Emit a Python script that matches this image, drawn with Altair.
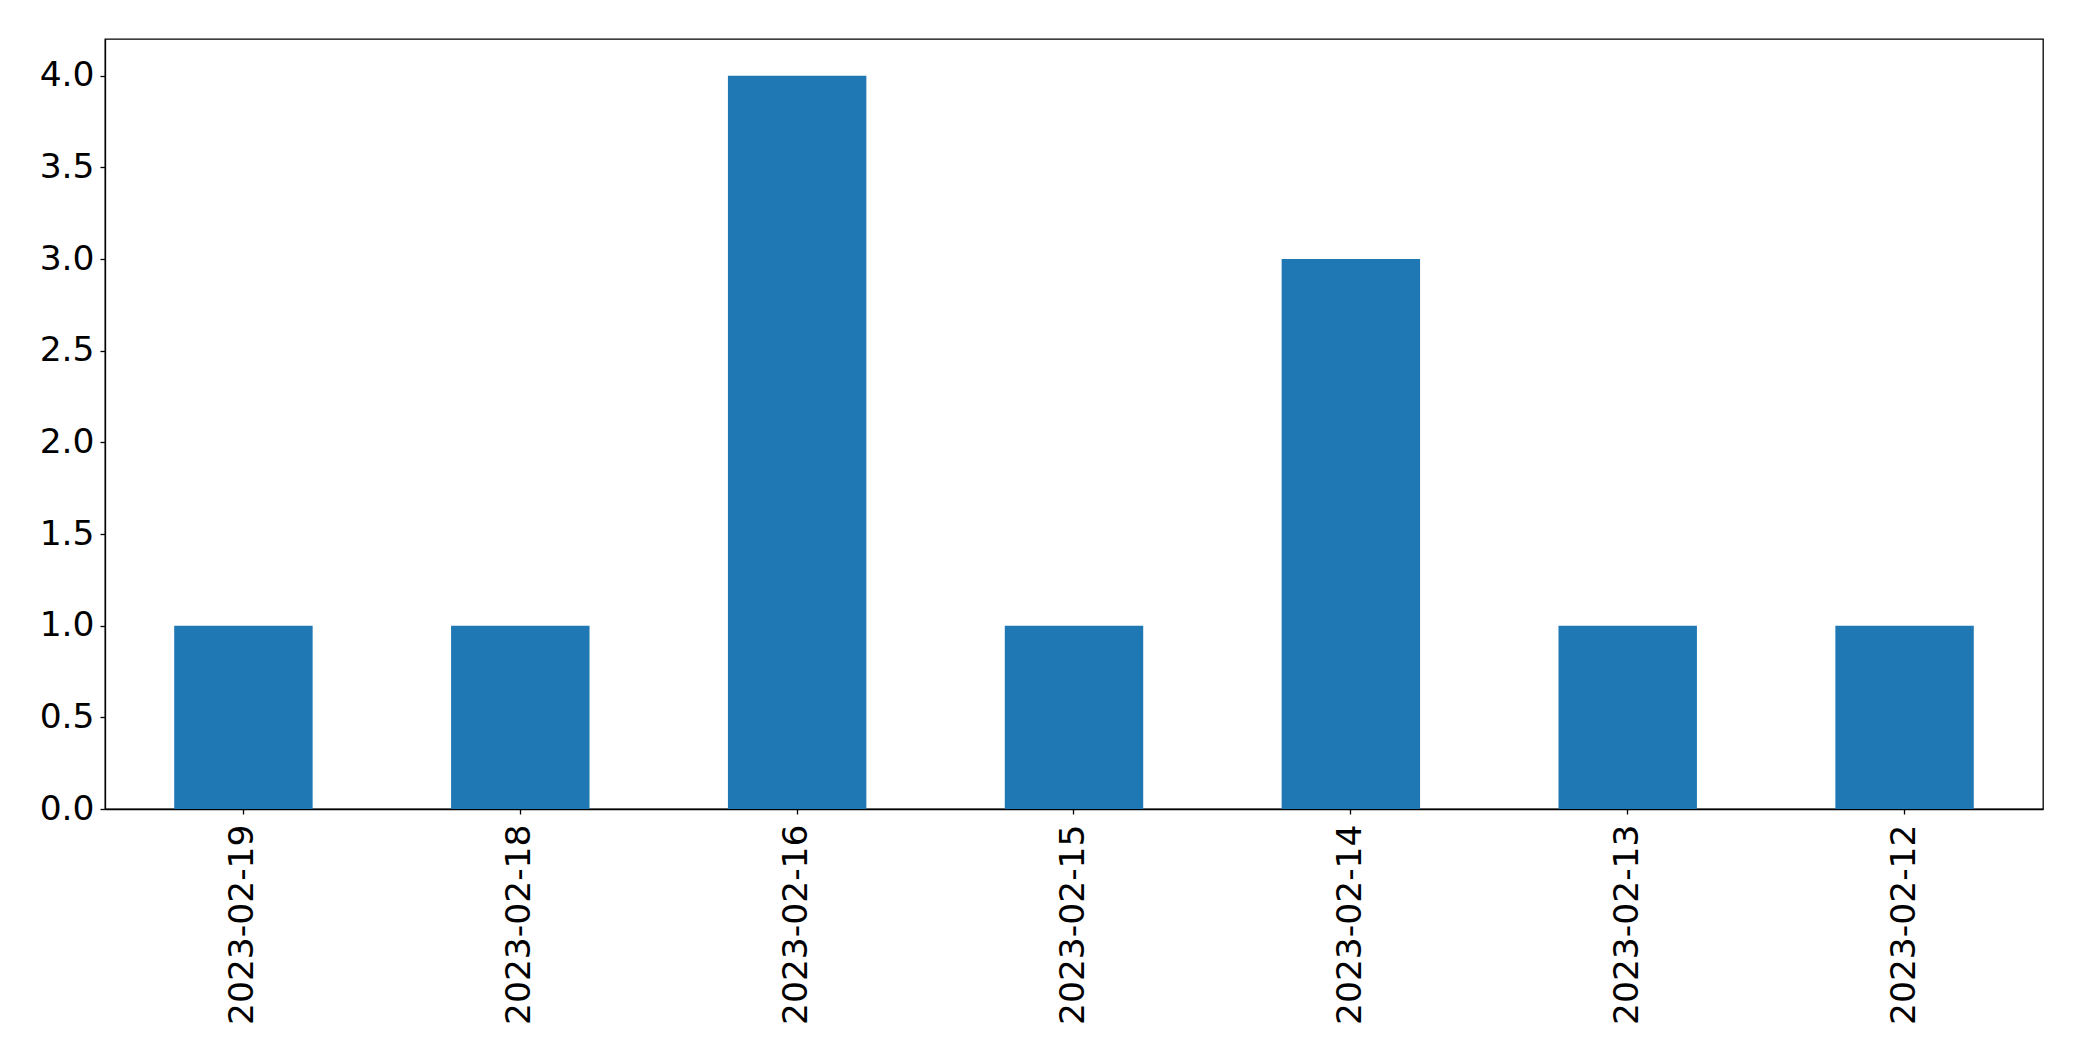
import altair as alt
import pandas as pd

dates = ["2023-02-19", "2023-02-18", "2023-02-16", "2023-02-15", "2023-02-14", "2023-02-13", "2023-02-12"]
counts = [1, 1, 4, 1, 3, 1, 1]
y_ticks = [0.0, 0.5, 1.0, 1.5, 2.0, 2.5, 3.0, 3.5, 4.0]

df = pd.DataFrame({"date": dates, "count": counts})

chart = alt.Chart(df).mark_bar(color="#1f77b4").encode(
    x=alt.X("date:N", sort=None, title=None,
            scale=alt.Scale(paddingInner=0.5, paddingOuter=0.25),
            axis=alt.Axis(labelAngle=-90, labelAlign="right", labelBaseline="middle",
                          labelFontSize=34.5, labelPadding=10, tickSize=5, labelColor="black",
                          labelLimit=0, domainColor="black", tickColor="black",
                          labelFont="DejaVu Sans")),
    y=alt.Y("count:Q", title=None,
            scale=alt.Scale(domain=[0, 4.2], nice=False),
            axis=alt.Axis(values=y_ticks, format=".1f", labelFontSize=34.5, labelPadding=6,
                          tickSize=5, grid=False, labelColor="black", domainColor="black",
                          tickColor="black", labelFont="DejaVu Sans")),
).properties(
    width=1938, height=770,
    autosize=alt.AutoSizeParams(type="none"),
    padding={"left": 97, "top": 31, "right": 31, "bottom": 244},
).configure_view(stroke="black", strokeWidth=1.3).configure_axis(domainWidth=1.3, tickWidth=1.3)

chart.save("out.html", embed_options={"renderer": "svg", "actions": False})
